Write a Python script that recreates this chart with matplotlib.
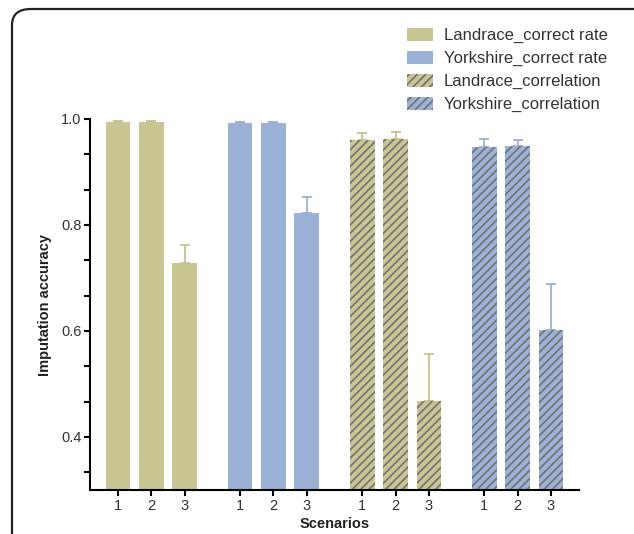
import numpy as np
import matplotlib
matplotlib.use("Agg")
import matplotlib.pyplot as plt
from matplotlib.patches import FancyBboxPatch, Patch
from matplotlib.ticker import FixedLocator

plt.rcParams["font.family"] = ["Liberation Sans", "DejaVu Sans"]
plt.rcParams["hatch.color"] = "#727272"
plt.rcParams["hatch.linewidth"] = 1.2

# Data
scenarios = ["1", "2", "3"]
landrace_rate = [0.994, 0.994, 0.728]
landrace_rate_err = [0.002, 0.002, 0.034]
yorkshire_rate = [0.993, 0.993, 0.822]
yorkshire_rate_err = [0.002, 0.002, 0.031]
landrace_corr = [0.960, 0.963, 0.468]
landrace_corr_err = [0.013, 0.012, 0.089]
yorkshire_corr = [0.947, 0.950, 0.602]
yorkshire_corr_err = [0.015, 0.011, 0.087]

series_names = ["Landrace_correct rate", "Yorkshire_correct rate",
                "Landrace_correlation", "Yorkshire_correlation"]
series_vals = [landrace_rate, yorkshire_rate, landrace_corr, yorkshire_corr]
series_errs = [landrace_rate_err, yorkshire_rate_err, landrace_corr_err, yorkshire_corr_err]

land_col = "#c9c593"
york_col = "#9bb1d6"
colors = [land_col, york_col, land_col, york_col]
err_cols = ["#c2bd86", "#93a9d2", "#c2bd86", "#93a9d2"]
hatches = [None, None, "////", "////"]

fig = plt.figure(figsize=(6.34, 5.34), dpi=100)
ax = fig.add_axes([90 / 634, 1 - 490 / 534, 489 / 634, 371 / 534])

# outer rounded frame (cropped page border)
frame = FancyBboxPatch((12 / 634, -0.2), 1.2, 1.2 - 9 / 534,
                       boxstyle="round,pad=0,rounding_size=0.03",
                       transform=fig.transFigure, fill=False,
                       edgecolor="#222222", linewidth=1.6, clip_on=False)
fig.patches.append(frame)

group_step = 11 / 3
xticks = []
for g, (vals, errs) in enumerate(zip(series_vals, series_errs)):
    x = g * group_step + np.arange(len(vals))
    xticks.extend(x)
    ax.bar(x, vals, width=0.74, color=colors[g], hatch=hatches[g],
           linewidth=0, zorder=2)
    ax.errorbar(x, vals, yerr=[np.zeros(len(vals)), errs], fmt="none",
                ecolor=err_cols[g], elinewidth=1.2, capsize=3.5,
                capthick=1.2, zorder=1)

ax.set_xlim(-0.84, 13.84)
ax.set_ylim(0.3, 1.0)
ax.set_xticks(xticks)
ax.set_xticklabels(scenarios * 4)
ax.set_yticks([0.4, 0.6, 0.8, 1.0])
ax.set_yticklabels(["0.4", "0.6", "0.8", "1.0"])
ax.yaxis.set_minor_locator(FixedLocator([1 / 3, 0.4 + 0.2 / 3, 0.6 - 0.2 / 3,
                                         0.6 + 0.2 / 3, 0.8 - 0.2 / 3,
                                         0.8 + 0.2 / 3, 1.0 - 0.2 / 3]))

for side in ["top", "right"]:
    ax.spines[side].set_visible(False)
for side in ["left", "bottom"]:
    ax.spines[side].set_linewidth(1.5)
ax.tick_params(axis="both", which="both", length=4.5, width=1.5,
               labelsize=10.5, labelcolor="#333333")
ax.tick_params(axis="y", pad=1.5)
ax.tick_params(axis="x", pad=2)

ax.set_ylabel("Imputation accuracy", fontsize=10.5, fontweight="bold",
              color="#222222", labelpad=7)
ax.set_xlabel("Scenarios", fontsize=10.5, fontweight="bold",
              color="#222222", labelpad=3)

handles = [Patch(facecolor=c, hatch=h, linewidth=0)
           for c, h in zip(colors, hatches)]
fig.legend(handles, series_names, loc="upper left",
           bbox_to_anchor=(400 / 634, 1 - 21 / 534), frameon=False,
           fontsize=12, labelcolor="#333333", handlelength=1.56,
           handleheight=0.84, handletextpad=0.66, labelspacing=0.45,
           borderaxespad=0)

fig.savefig("out.png", dpi=100)
